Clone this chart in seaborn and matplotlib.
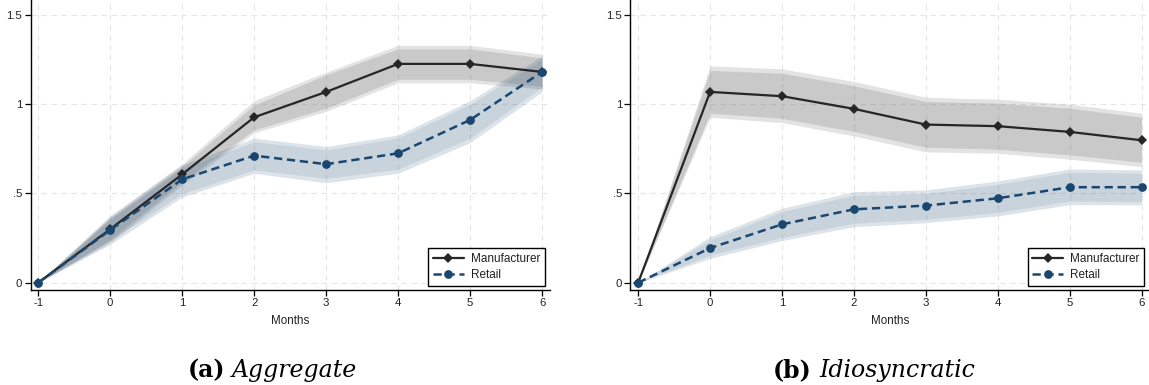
import numpy as np
import pandas as pd
import matplotlib
matplotlib.use("Agg")
import matplotlib.pyplot as plt
import seaborn as sns

# Event time (months relative to the shock)
months = [-1, 0, 1, 2, 3, 4, 5, 6]
series_names = ["Manufacturer", "Retail"]
ytick_vals = [0, 0.5, 1, 1.5]
ytick_labels = ["0", ".5", "1", "1.5"]

# Panel (a): aggregate responses with 90% / 95% bands
agg_mfr = [0, 0.300, 0.607, 0.927, 1.069, 1.226, 1.226, 1.181]
agg_mfr_hi95 = [0, 0.375, 0.665, 1.020, 1.180, 1.330, 1.330, 1.280]
agg_mfr_hi90 = [0, 0.360, 0.650, 0.996, 1.165, 1.310, 1.310, 1.260]
agg_mfr_lo90 = [0, 0.240, 0.565, 0.856, 0.978, 1.140, 1.140, 1.100]
agg_mfr_lo95 = [0, 0.225, 0.548, 0.840, 0.960, 1.120, 1.120, 1.085]

agg_ret = [0, 0.295, 0.579, 0.712, 0.664, 0.725, 0.912, 1.181]
agg_ret_hi95 = [0, 0.370, 0.660, 0.810, 0.763, 0.828, 1.020, 1.270]
agg_ret_hi90 = [0, 0.355, 0.640, 0.790, 0.744, 0.810, 1.000, 1.250]
agg_ret_lo90 = [0, 0.235, 0.500, 0.632, 0.585, 0.636, 0.810, 1.096]
agg_ret_lo95 = [0, 0.215, 0.480, 0.613, 0.560, 0.613, 0.785, 1.070]

# Panel (b): idiosyncratic responses with 90% / 95% bands
idio_mfr = [0, 1.069, 1.045, 0.974, 0.886, 0.877, 0.845, 0.798]
idio_mfr_hi95 = [0, 1.215, 1.198, 1.127, 1.039, 1.028, 1.000, 0.950]
idio_mfr_hi90 = [0, 1.189, 1.174, 1.103, 1.015, 1.006, 0.978, 0.927]
idio_mfr_lo90 = [0, 0.950, 0.921, 0.847, 0.759, 0.748, 0.716, 0.675]
idio_mfr_lo95 = [0, 0.927, 0.897, 0.822, 0.733, 0.725, 0.692, 0.650]

idio_ret = [0, 0.194, 0.327, 0.411, 0.432, 0.473, 0.535, 0.535]
idio_ret_hi95 = [0, 0.258, 0.417, 0.510, 0.520, 0.570, 0.637, 0.632]
idio_ret_hi90 = [0, 0.239, 0.398, 0.490, 0.500, 0.551, 0.619, 0.613]
idio_ret_lo90 = [0, 0.155, 0.254, 0.333, 0.355, 0.393, 0.458, 0.454]
idio_ret_lo95 = [0, 0.136, 0.236, 0.314, 0.336, 0.374, 0.437, 0.436]

MFR_COLOR = "#262626"
RET_COLOR = "#1a476f"

sns.set_theme(style="white")
plt.rcParams["font.family"] = ["Liberation Sans", "DejaVu Sans"]

W, H = 1149, 385
fig = plt.figure(figsize=(W / 100, H / 100), dpi=100)


def px_rect(x0, x1, ytop, ybot):
    return [x0 / W, 1 - ybot / H, (x1 - x0) / W, (ybot - ytop) / H]


panels = [
    dict(rect=px_rect(30.5, 550, 0, 290),
         mfr=(agg_mfr, agg_mfr_lo95, agg_mfr_hi95, agg_mfr_lo90, agg_mfr_hi90),
         ret=(agg_ret, agg_ret_lo95, agg_ret_hi95, agg_ret_lo90, agg_ret_hi90)),
    dict(rect=px_rect(630.5, 1149.5, 0, 290),
         mfr=(idio_mfr, idio_mfr_lo95, idio_mfr_hi95, idio_mfr_lo90, idio_mfr_hi90),
         ret=(idio_ret, idio_ret_lo95, idio_ret_hi95, idio_ret_lo90, idio_ret_hi90)),
]

for p in panels:
    ax = fig.add_axes(p["rect"])
    ax.set_facecolor("white")

    # confidence bands: outer (95%) lighter, inner (90%) darker
    for vals, col, a_out, a_in in [(p["mfr"], "#808080", 0.22, 0.26),
                                   (p["ret"], RET_COLOR, 0.15, 0.10)]:
        _, lo95, hi95, lo90, hi90 = vals
        ax.fill_between(months, lo95, hi95, color=col, alpha=a_out, lw=0, zorder=1)
        ax.fill_between(months, lo90, hi90, color=col, alpha=a_in, lw=0, zorder=1)

    df_m = pd.DataFrame({"Months": months, "y": p["mfr"][0]})
    df_r = pd.DataFrame({"Months": months, "y": p["ret"][0]})
    sns.lineplot(data=df_m, x="Months", y="y", ax=ax, color=MFR_COLOR,
                 marker="D", markersize=5.6, markeredgewidth=0, linewidth=1.6,
                 label=series_names[0], errorbar=None, zorder=3)
    sns.lineplot(data=df_r, x="Months", y="y", ax=ax, color=RET_COLOR,
                 marker="o", markersize=6.3, markeredgewidth=0, linewidth=1.8,
                 linestyle=(0, (3.3, 1.9)),
                 label=series_names[1], errorbar=None, zorder=4)

    ax.set_xlim(-1.107, 6.11)
    ax.set_ylim(-0.041, 1.584)
    ax.set_xticks(months)
    ax.set_xticklabels([str(m) for m in months])
    ax.set_yticks(ytick_vals)
    ax.set_yticklabels(ytick_labels)
    ax.set_xlabel("Months", fontsize=8.4, labelpad=5, color="#222222")
    ax.set_ylabel("")

    ax.grid(True, color="#e6e6e6", linestyle=(0, (5, 4)), linewidth=0.8, zorder=0)
    ax.set_axisbelow(True)
    for side in ["top", "right"]:
        ax.spines[side].set_visible(False)
    for side in ["left", "bottom"]:
        ax.spines[side].set_color("black")
        ax.spines[side].set_linewidth(1.0)
    ax.tick_params(axis="both", which="major", direction="out", length=4,
                   width=0.9, color="black", labelsize=8.2, pad=2,
                   labelcolor="#222222", left=True, bottom=True)

    leg = ax.legend(loc="lower right", bbox_to_anchor=(0.99, 0.014),
                    borderaxespad=0, frameon=True, fancybox=False,
                    edgecolor="black", framealpha=1, fontsize=8.5,
                    handlelength=2.6, handletextpad=0.6, labelspacing=0.35,
                    borderpad=0.4)
    leg.get_frame().set_linewidth(1.0)
    for t in leg.get_texts():
        t.set_color("#222222")

# Sub-figure captions: bold letter followed by italic title, centred as a unit
cap_y = 1 - 370 / H
cap_font = "DejaVu Serif"
cap_size = 17
gap_px = 7
renderer = fig.canvas.get_renderer()
for center_px, letter, title in [(272.5, "(a)", "Aggregate"),
                                 (874.0, "(b)", "Idiosyncratic")]:
    t1 = fig.text(0, cap_y, letter, ha="left", va="center", fontsize=cap_size,
                  fontweight="bold", family=cap_font, color="black")
    t2 = fig.text(0, cap_y, title, ha="left", va="center", fontsize=cap_size,
                  style="italic", family=cap_font, color="black")
    w1 = t1.get_window_extent(renderer).width
    w2 = t2.get_window_extent(renderer).width
    start = center_px - (w1 + gap_px + w2) / 2
    t1.set_x(start / W)
    t2.set_x((start + w1 + gap_px) / W)

fig.savefig("out.png", dpi=100)
